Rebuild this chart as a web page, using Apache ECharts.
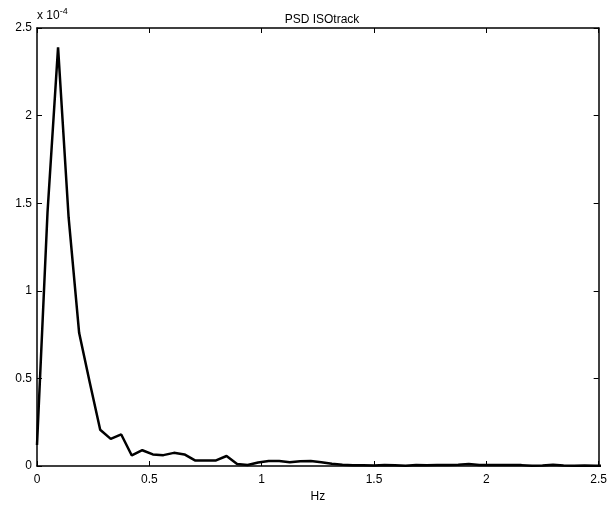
<!DOCTYPE html>
<html>
<head>
<meta charset="utf-8">
<script src="https://cdn.jsdelivr.net/npm/echarts@6/dist/echarts.min.js"></script>
<style>
html,body{margin:0;padding:0;background:#fff;}
#chart{width:610px;height:508px;}
</style>
</head>
<body>
<div id="chart"></div>
<script>
// Frequency step (Hz) of the PSD bins
const freqStep = 0.046875;
// PSD values in units of 1e-4
const psdValues = [
  0.12, 1.45, 2.39, 1.42, 0.76, 0.48, 0.207, 0.155, 0.18, 0.06,
  0.09, 0.066, 0.062, 0.075, 0.066, 0.032, 0.032, 0.032, 0.057, 0.012,
  0.006, 0.02, 0.028, 0.028, 0.021, 0.027, 0.028, 0.022, 0.013, 0.007,
  0.004, 0.004, 0.003, 0.005, 0.004, 0.002, 0.006, 0.004, 0.006, 0.006,
  0.007, 0.012, 0.006, 0.006, 0.005, 0.006, 0.005, 0.002, 0.003, 0.007,
  0.003, 0.002, 0.003, 0.002, 0.002
];
const xTicks = [0, 0.5, 1, 1.5, 2, 2.5];
const yTicks = [0, 0.5, 1, 1.5, 2, 2.5];
const titleText = 'PSD ISOtrack';
const xName = 'Hz';

const seriesData = psdValues.map((v, i) => [i * freqStep, v]);
const font = 'Helvetica, "Liberation Sans", Arial, sans-serif';

const chart = echarts.init(document.getElementById('chart'), null, {renderer: 'canvas'});
const axisLine = {show: true, onZero: false, lineStyle: {color: '#000', width: 1.5}};
const tickIn = {show: true, inside: true, length: 5, lineStyle: {color: '#000', width: 1}};
chart.setOption({
  animation: false,
  backgroundColor: '#fff',
  title: {
    text: titleText, left: 317, top: 9, textAlign: 'center',
    textStyle: {fontFamily: font, fontSize: 12, fontWeight: 'normal', color: '#000'}
  },
  grid: {left: 37, right: 10, top: 28, bottom: 38, containLabel: false},
  graphic: [{
    type: 'text', left: 37, top: 7,
    style: {
      text: '{a|x 10}{b|-4}',
      rich: {
        a: {fontFamily: font, fontSize: 12, fill: '#000', verticalAlign: 'bottom'},
        b: {fontFamily: font, fontSize: 9, fill: '#000', verticalAlign: 'top', padding: [0,0,6,0]}
      }
    }
  }],
  xAxis: [{
    type: 'value', min: 0, max: 2.5, interval: 0.5, position: 'bottom',
    name: xName, nameLocation: 'middle', nameGap: 25,
    nameTextStyle: {fontFamily: font, fontSize: 12, color: '#000'},
    axisLine: axisLine, axisTick: tickIn, splitLine: {show: false},
    axisLabel: {fontFamily: font, fontSize: 12, color: '#000', margin: 8,
      formatter: v => xTicks.includes(v) ? String(v) : ''}
  }, {
    type: 'value', min: 0, max: 2.5, interval: 0.5, position: 'top',
    axisLine: axisLine, axisTick: tickIn, splitLine: {show: false}, axisLabel: {show: false}
  }],
  yAxis: [{
    type: 'value', min: 0, max: 2.5, interval: 0.5, position: 'left',
    axisLine: axisLine, axisTick: tickIn, splitLine: {show: false},
    axisLabel: {fontFamily: font, fontSize: 12, color: '#000', margin: 5,
      formatter: v => yTicks.includes(v) ? String(v) : ''}
  }, {
    type: 'value', min: 0, max: 2.5, interval: 0.5, position: 'right',
    axisLine: axisLine, axisTick: tickIn, splitLine: {show: false}, axisLabel: {show: false}
  }],
  series: [{
    type: 'line', data: seriesData, showSymbol: false, symbol: 'none',
    xAxisIndex: 0, yAxisIndex: 0, clip: true,
    lineStyle: {color: '#000', width: 2.5}
  }]
});
</script>
</body>
</html>
